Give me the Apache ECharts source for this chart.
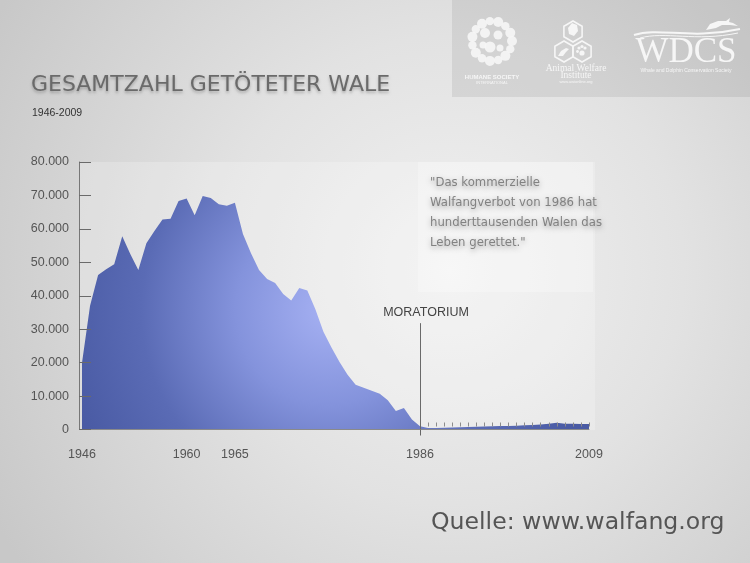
<!DOCTYPE html>
<html><head><meta charset="utf-8">
<script src="https://cdn.jsdelivr.net/npm/echarts@6/dist/echarts.min.js"></script>
<style>html,body{margin:0;padding:0;background:#d8d8d8}#c{width:750px;height:563px}</style>
</head><body><div id="c"></div>
<script>
// ---------- data ----------
const tickLabels = ['1946', ...Array(12).fill(''), '1960', ...Array(5).fill(''), '1965',
  ...Array(22).fill(''), '1986', ...Array(20).fill(''), '2009'];
const kills = [
  20000, 37000, 46200, 47900, 49400, 57800, 52500, 47700, 55700, 59400,
  62800, 63000, 68300, 69100, 64100, 69800, 69200, 67400, 66900, 67800,
  58500, 52700, 47700, 45000, 43800, 40500, 38600, 42300, 41600, 36000,
  29200, 24500, 20200, 16400, 13400, 12500, 11600, 10700, 8750, 5500,
  6400, 3000, 950,
  450, 480, 520, 580, 650, 720, 800, 880, 950, 1020,
  1080, 1150, 1250, 1380, 1500, 1700, 2050, 1750, 1700, 1680, 1650
];
const yMin = 0, yMax = 80000, yStep = 10000;
const moratoriumYear = '1986';
const moratoriumText = 'MORATORIUM';
const moratoriumTop = 31800;
const titleText = 'GESAMTZAHL GETÖTETER WALE';
const subtitleText = '1946-2009';
const quoteLines = ['"Das kommerzielle', 'Walfangverbot von 1986 hat', 'hunderttausenden Walen das', 'Leben gerettet."'];
const sourceText = 'Quelle: www.walfang.org';

// ---------- fonts ----------
function hasFont(f){
  const c = document.createElement('canvas').getContext('2d');
  c.font = '20px monospace'; const a = c.measureText('MORATORIUM 80.000').width;
  c.font = '20px "' + f + '", monospace'; const b = c.measureText('MORATORIUM 80.000').width;
  return a !== b;
}
const narrowOK = hasFont('Liberation Sans Narrow');
const AXF = narrowOK ? '"Liberation Sans Narrow"' : '"Liberation Sans"';
const AXS = narrowOK ? 14 : 12.5;

// ---------- decorations ----------
function hex(cx, cy, r){ const p=[]; for(let k=0;k<6;k++){const a=Math.PI/180*(60*k-90); p.push([cx+r*Math.cos(a), cy+r*Math.sin(a)]);} return p; }
const W = '#f6f6f6';
const deco = [];
deco.push({type:'rect', z:-20, shape:{x:0,y:0,width:750,height:563},
  style:{fill:{type:'radial', x:450, y:270, r:520, global:true,
    colorStops:[{offset:0,color:'#f1f1f1'},{offset:0.45,color:'#e2e2e2'},{offset:1,color:'#c8c8c8'}]}}});
deco.push({type:'rect', z:-15, shape:{x:79,y:162,width:516,height:268}, style:{fill:'rgba(255,255,255,0.22)'}});
deco.push({type:'rect', z:-14, shape:{x:418,y:162,width:175,height:130}, style:{fill:'rgba(255,255,255,0.25)'}});
deco.push({type:'rect', z:-14, shape:{x:452,y:0,width:298,height:97}, style:{fill:'rgba(0,0,0,0.07)'}});
for (let k=0;k<15;k++){ const a=k/15*2*Math.PI; deco.push({type:'circle', z:10, shape:{cx:492+20*Math.cos(a), cy:41+20*Math.sin(a), r: (k%2? 4.2:5)}, style:{fill:W, opacity:0.9}}); }
[[485,33,5],[498,35,4.5],[490,47,5.5],[500,48,3.5],[483,45,3.5]].forEach(p=>deco.push({type:'circle', z:10, shape:{cx:p[0],cy:p[1],r:p[2]}, style:{fill:W, opacity:0.9}}));
deco.push({type:'text', z:10, style:{x:492,y:77,text:'HUMANE SOCIETY',fill:W,font:'bold 6px "Liberation Sans"',textAlign:'center',textVerticalAlign:'middle'}});
deco.push({type:'text', z:10, style:{x:492,y:82.5,text:'INTERNATIONAL',fill:W,font:'4px "Liberation Sans"',textAlign:'center',textVerticalAlign:'middle'}});
[[573,31.5],[564,51.5],[582,51.5]].forEach(p=>deco.push({type:'polygon', z:10, shape:{points:hex(p[0],p[1],10.5)}, style:{fill:'none',stroke:W,lineWidth:1.6}}));
deco.push({type:'polygon', z:10, shape:{points:[[568,28],[572,23],[577,25],[578,31],[574,36],[569,34]]}, style:{fill:W}});
deco.push({type:'polygon', z:10, shape:{points:[[558,56],[561,51],[566,48],[569,49],[566,52],[563,56]]}, style:{fill:W}});
[[579,48,1.6],[582,46.5,1.6],[585,48,1.6],[577.5,51.5,1.4],[582,53,2.6]].forEach(p=>deco.push({type:'circle', z:10, shape:{cx:p[0],cy:p[1],r:p[2]}, style:{fill:W}}));
deco.push({type:'text', z:10, style:{x:576,y:68,text:'Animal Welfare',fill:W,font:'9.5px "Liberation Serif"',textAlign:'center',textVerticalAlign:'middle'}});
deco.push({type:'text', z:10, style:{x:576,y:75.5,text:'Institute',fill:W,font:'9.5px "Liberation Serif"',textAlign:'center',textVerticalAlign:'middle'}});
deco.push({type:'text', z:10, style:{x:576,y:82,text:'www.awionline.org',fill:W,font:'4px "Liberation Sans"',textAlign:'center',textVerticalAlign:'middle'}});
deco.push({type:'bezierCurve', z:10, shape:{x1:634,y1:35,cpx1:660,cpy1:27,cpx2:690,cpy2:40,x2:740,y2:29}, style:{fill:'none',stroke:W,lineWidth:2}});
deco.push({type:'bezierCurve', z:10, shape:{x1:640,y1:38,cpx1:665,cpy1:31,cpx2:695,cpy2:42,x2:738,y2:33}, style:{fill:'none',stroke:W,lineWidth:1}});
deco.push({type:'polygon', z:10, shape:{points:[[706,30],[710,24],[718,21],[726,21],[730,18],[729,22],[733,23],[738,26],[730,25],[722,25],[716,28]]}, style:{fill:W}});
deco.push({type:'text', z:10, style:{x:686,y:53,text:'WDCS',fill:W,font:'35px "Liberation Serif"',textAlign:'center',textVerticalAlign:'middle'}});
deco.push({type:'text', z:10, style:{x:686,y:71,text:'Whale and Dolphin Conservation Society',fill:W,font:'5px "Liberation Sans"',textAlign:'center',textVerticalAlign:'middle'}});
deco.push({type:'text', z:10, style:{x:31,y:85,text:titleText,fill:'#6a6a6a',font:'22px "DejaVu Sans"',textVerticalAlign:'middle',
  textShadowColor:'rgba(0,0,0,0.25)',textShadowBlur:3,textShadowOffsetY:2}});
deco.push({type:'text', z:10, style:{x:32,y:113.5,text:subtitleText,fill:'#333',font:'10.5px "Liberation Sans"',textVerticalAlign:'middle'}});
deco.push({type:'text', z:10, style:{x:430,y:173,text:quoteLines.join('\n'),fill:'#828282',font:'13px "DejaVu Sans Condensed"',lineHeight:20,textVerticalAlign:'top',
  textShadowColor:'rgba(0,0,0,0.35)',textShadowBlur:5,textShadowOffsetY:2}});
deco.push({type:'text', z:10, style:{x:431,y:523,text:sourceText,fill:'#555',font:'23.6px "DejaVu Sans"',textVerticalAlign:'middle'}});

// ---------- chart ----------
const chart = echarts.init(document.getElementById('c'));
const areaGrad = {type:'radial', x:330, y:310, r:270, global:true,
  colorStops:[{offset:0,color:'#a6b1f3'},{offset:0.35,color:'#8493dc'},{offset:0.7,color:'#5a6bb5'},{offset:1,color:'#4a5ba4'}]};
const mIdx = tickLabels.indexOf(moratoriumYear);
chart.setOption({
  animation:false,
  graphic: deco,
  grid:{left:82, top:162, width:507, height:267.5, containLabel:false},
  xAxis:[{
    type:'category', data:tickLabels, boundaryGap:false, z:5,
    axisLine:{lineStyle:{color:'#8a8a8a', width:1}},
    axisTick:{show:true, interval:(i)=>i===mIdx, length:6, lineStyle:{color:'#666'}},
    axisLabel:{interval:0, color:'#555', fontSize:AXS, fontFamily:AXF, margin:19}
  },{
    type:'category', data:tickLabels, boundaryGap:false, position:'bottom', offset:-3, z:5,
    axisLine:{show:false},
    axisTick:{show:true, inside:true, length:4, interval:(i)=>i>mIdx, lineStyle:{color:'#8c8c8c'}},
    axisLabel:{show:false}
  }],
  yAxis:{
    type:'value', min:yMin, max:yMax, interval:yStep, offset:3, z:5,
    axisLine:{show:true, lineStyle:{color:'#777'}},
    axisTick:{show:true, inside:true, length:12, lineStyle:{color:'#6a6a6a'}},
    splitLine:{show:false},
    axisLabel:{color:'#555', fontSize:AXS, fontFamily:AXF, margin:10,
      formatter:(v)=> v===0 ? '0' : (v/1000)+'.000'}
  },
  series:[{
    type:'line', data:kills, xAxisIndex:0, showSymbol:false, symbol:'none',
    lineStyle:{width:0}, areaStyle:{color:areaGrad, opacity:1},
    markLine:{silent:true, symbol:'none',
      lineStyle:{color:'#6a6a6a', width:1, type:'solid'},
      label:{show:true, position:'end', formatter:moratoriumText, color:'#444', fontSize:AXS, fontFamily:AXF, distance:4, offset:[6,0]},
      data:[[{coord:[mIdx, 0]},{coord:[mIdx, moratoriumTop]}]]}
  }]
});
</script></body></html>
